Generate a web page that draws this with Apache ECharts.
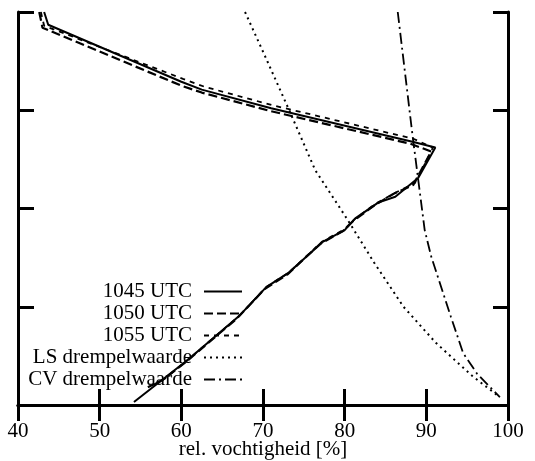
<!DOCTYPE html>
<html>
<head>
<meta charset="utf-8">
<script src="https://cdn.jsdelivr.net/npm/echarts@6/dist/echarts.min.js"></script>
<style>
  html, body { margin: 0; padding: 0; background: #fff; }
  #chart { width: 535px; height: 461px; }
</style>
</head>
<body>
<div id="chart"></div>
<script>
// Relative humidity profiles [rel. humidity %, height level]
const xTicks = [40, 50, 60, 70, 80, 90, 100];
const seriesNames = ['1045 UTC', '1050 UTC', '1055 UTC', 'LS drempelwaarde', 'CV drempelwaarde'];

const rh1045 = [[43.2,4.0],[43.7,3.87],[60.0,3.29],[62.5,3.21],[71.0,3.02],[88.3,2.68],[91.1,2.62],
  [89.0,2.31],[86.2,2.12],[84.1,2.06],[81.3,1.90],[80.0,1.78],[77.3,1.66],[73.2,1.35],[70.4,1.20],
  [67.0,0.90],[63.6,0.66],[60.8,0.46],[54.2,0.03]];

const rh1050 = [[42.6,4.0],[43.0,3.84],[60.0,3.25],[62.5,3.18],[71.0,2.99],[88.0,2.66],[90.6,2.58],
  [89.3,2.38],[88.4,2.24],[86.0,2.15],[83.6,2.03],[81.0,1.87],[79.8,1.77],[77.0,1.64],[73.0,1.33],
  [70.2,1.18],[66.8,0.88],[63.4,0.64],[60.6,0.44],[57.8,0.26],[55.9,0.18]];

const rh1055 = [[42.8,4.0],[43.2,3.86],[60.2,3.32],[62.8,3.24],[71.2,3.05],[88.4,2.71],[90.8,2.62],
  [89.5,2.40],[88.6,2.26],[86.2,2.16],[83.8,2.05],[81.2,1.89],[80.0,1.79],[77.2,1.66],[73.2,1.35],
  [70.4,1.20],[67.0,0.90],[63.6,0.66],[60.8,0.46],[58.0,0.27],[56.0,0.18]];

const lsThreshold = [[67.8,4.0],[70.2,3.56],[73.1,3.02],[76.4,2.39],[80.4,1.88],[83.6,1.45],
  [87.2,1.00],[91.2,0.63],[95.7,0.29],[99.0,0.08]];

const cvThreshold = [[86.5,4.0],[88.3,2.75],[89.8,1.78],[90.6,1.51],[93.0,0.90],[94.5,0.53],
  [96.2,0.32],[99.0,0.08]];

const serif = '"Liberation Serif", "DejaVu Serif", serif';
const ink = '#000';

function lineSeries(name, data, dash, width) {
  return {
    name: name,
    type: 'line',
    data: data,
    symbol: 'none',
    showSymbol: false,
    smooth: false,
    animation: false,
    itemStyle: { color: ink },
    lineStyle: { color: ink, width: width, type: dash }
  };
}

const frameAxisLine = { show: true, lineStyle: { color: ink, width: 3 } };
const frameTick = { show: true, inside: true, length: 16, lineStyle: { color: ink, width: 3 } };

const chart = echarts.init(document.getElementById('chart'), null, { renderer: 'canvas' });
chart.setOption({
  backgroundColor: '#fff',
  animation: false,
  color: [ink, ink, ink, ink, ink],
  grid: { left: 18, right: 27, top: 12, bottom: 56, containLabel: false, outerBoundsMode: 'none' },
  legend: {
    orient: 'vertical',
    align: 'right',
    right: 292,
    top: 281,
    padding: 0,
    itemWidth: 38,
    itemHeight: 14,
    itemGap: 1,
    data: seriesNames,
    itemStyle: { opacity: 0 },
    textStyle: { fontFamily: serif, fontSize: 21, color: ink, padding: [0, 7, 0, 0] },
    inactiveColor: ink
  },
  xAxis: [
    {
      type: 'value', position: 'bottom', min: 40, max: 100, interval: 10,
      axisLine: frameAxisLine, axisTick: frameTick, splitLine: { show: false },
      axisLabel: {
        show: true, margin: 16, fontFamily: serif, fontSize: 21, color: ink,
        formatter: v => (xTicks.indexOf(v) >= 0 ? String(v) : '')
      },
      name: 'rel. vochtigheid [%]', nameLocation: 'middle', nameGap: 34,
      nameMoveOverlap: false,
      nameTextStyle: { fontFamily: serif, fontSize: 21, color: ink }
    },
    {
      type: 'value', position: 'top', min: 40, max: 100, interval: 10,
      axisLine: frameAxisLine, axisTick: frameTick, splitLine: { show: false },
      axisLabel: { show: false }
    }
  ],
  yAxis: [
    {
      type: 'value', position: 'left', min: 0, max: 4, interval: 1,
      axisLine: frameAxisLine, axisTick: frameTick, splitLine: { show: false },
      axisLabel: { show: false }
    },
    {
      type: 'value', position: 'right', min: 0, max: 4, interval: 1,
      axisLine: frameAxisLine, axisTick: Object.assign({}, frameTick, { length: 15 }),
      splitLine: { show: false }, axisLabel: { show: false }
    }
  ],
  series: [
    lineSeries(seriesNames[0], rh1045, 'solid', 2),
    lineSeries(seriesNames[1], rh1050, [9, 4], 2.2),
    lineSeries(seriesNames[2], rh1055, [5, 5], 1.8),
    lineSeries(seriesNames[3], lsThreshold, [2, 4], 2),
    lineSeries(seriesNames[4], cvThreshold, [11, 4, 2, 4], 1.8)
  ]
});
</script>
</body>
</html>
